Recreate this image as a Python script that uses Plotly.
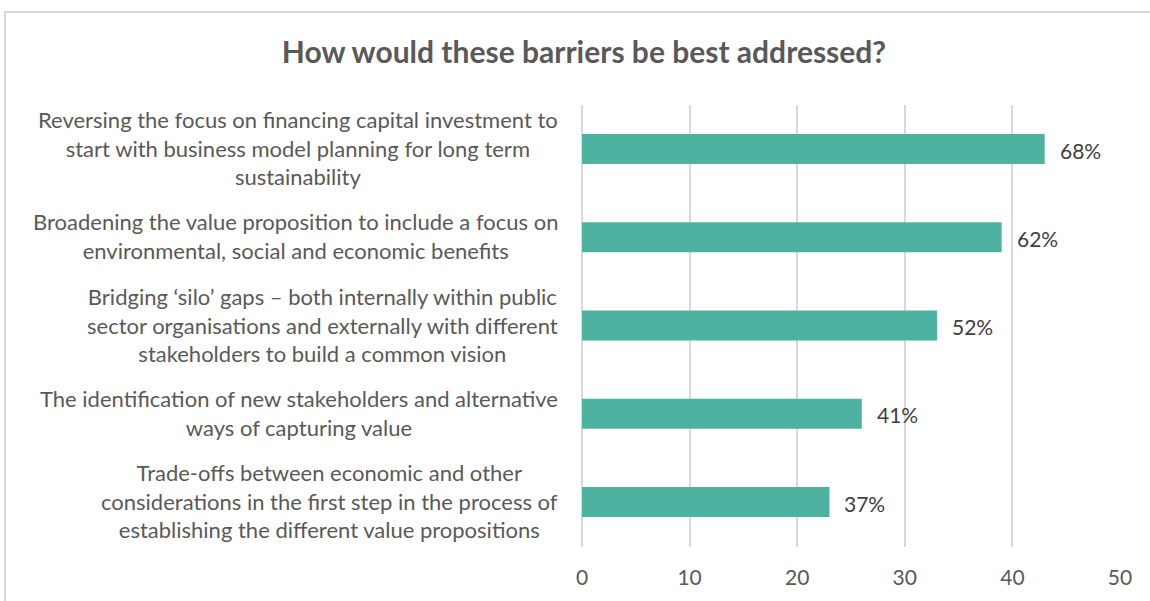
import plotly.graph_objects as go

categories = [
    "Reversing the focus on financing capital investment to<br>start with business model planning for long term<br>sustainability",
    "Broadening the value proposition to include a focus on<br>environmental, social and economic benefits",
    "Bridging ‘silo’ gaps – both internally within public<br>sector organisations and externally with different<br>stakeholders to build a common vision",
    "The identification of new stakeholders and alternative<br>ways of capturing value",
    "Trade-offs between economic and other<br>considerations in the first step in the process of<br>establishing the different value propositions",
]
values = [43, 39, 33, 26, 23]
pct_labels = ["68%", "62%", "52%", "41%", "37%"]
x_ticks = [0, 10, 20, 30, 40, 50]

FONT = "Lato"
GREY = "#595959"

fig = go.Figure(go.Bar(
    x=values, y=categories, orientation="h",
    marker=dict(color="#4DB3A0", line=dict(width=0)),
    hoverinfo="skip",
))

annotations = []
for c in categories:
    annotations.append(dict(
        x=0, xref="paper", y=c, yref="y", text=c, showarrow=False,
        xanchor="right", xshift=-22, yshift=1, align="center",
        font=dict(family=FONT, size=22, color=GREY),
    ))
for c, v, t in zip(categories, values, pct_labels):
    annotations.append(dict(
        x=v, xref="x", y=c, yref="y", text=t, showarrow=False,
        xanchor="left", xshift=13, yshift=-1,
        font=dict(family=FONT, size=21, color="#404040"),
    ))

fig.update_layout(
    width=1150, height=601,
    margin=dict(l=582, r=30, t=105, b=54),
    paper_bgcolor="white", plot_bgcolor="white",
    bargap=0.66,
    showlegend=False,
    title=dict(text="<b>How would these barriers be best addressed?</b>",
               x=584 / 1150, xanchor="center", y=1 - 52 / 601, yanchor="middle",
               yref="container",
               font=dict(family=FONT, size=30, color=GREY)),
    xaxis=dict(range=[0, 50], tickvals=x_ticks, showgrid=True,
               gridcolor="#D9D9D9", gridwidth=1.5, zeroline=True,
               zerolinecolor="#D9D9D9", zerolinewidth=1.5,
               showline=False, ticks="", ticklen=0, ticklabelstandoff=16,
               tickfont=dict(family=FONT, size=21, color=GREY)),
    yaxis=dict(autorange="reversed", showticklabels=False, showgrid=False,
               zeroline=False, showline=False, ticks=""),
    annotations=annotations,
    shapes=[dict(type="path", xref="paper", yref="paper",
                 path="M %f %f L %f %f L %f %f" % (
                     (5 - 582) / 538, -0.2,
                     (5 - 582) / 538, (547 - 12) / 442,
                     1.2, (547 - 12) / 442),
                 line=dict(color="#D9D9D9", width=2))],
)

fig.write_html("out.html", config={"displayModeBar": False},
               post_script="document.body.style.margin='0';")
